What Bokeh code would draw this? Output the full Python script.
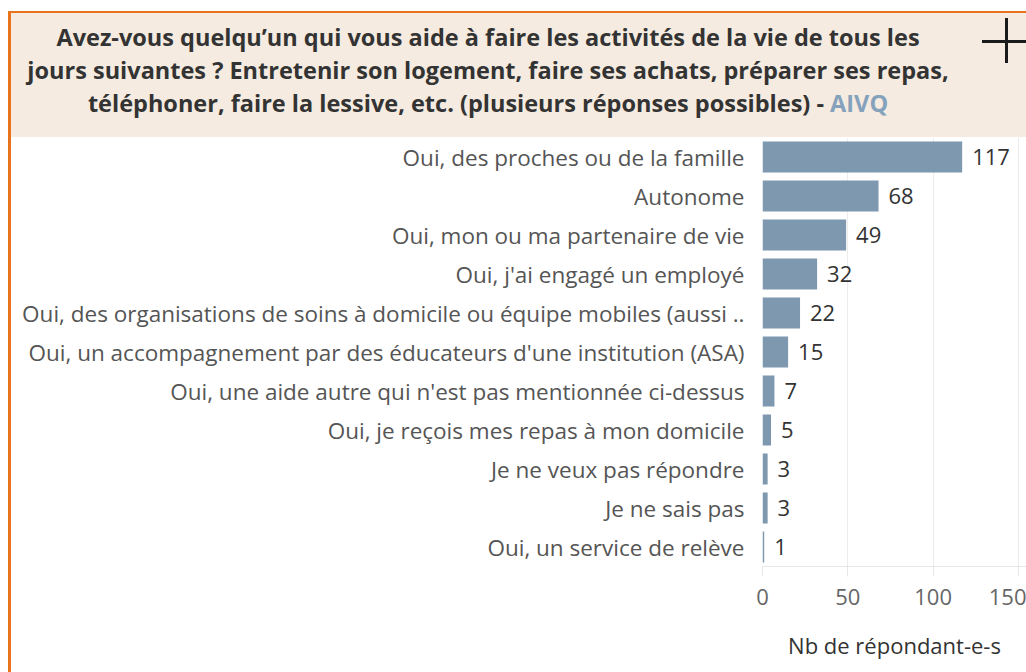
from bokeh.plotting import figure
from bokeh.layouts import column, row
from bokeh.models import Range1d, FactorRange, FixedTicker, ColumnDataSource, Div
from bokeh.core.properties import value
from bokeh.embed import file_html
from bokeh.resources import INLINE

categories = [
    "Oui, des proches ou de la famille",
    "Autonome",
    "Oui, mon ou ma partenaire de vie",
    "Oui, j'ai engagé un employé",
    "Oui, des organisations de soins à domicile ou équipe mobiles (aussi ..",
    "Oui, un accompagnement par des éducateurs d'une institution (ASA)",
    "Oui, une aide autre qui n'est pas mentionnée ci-dessus",
    "Oui, je reçois mes repas à mon domicile",
    "Je ne veux pas répondre",
    "Je ne sais pas",
    "Oui, un service de relève",
]
counts = [117, 68, 49, 32, 22, 15, 7, 5, 3, 3, 1]
x_ticks = [0, 50, 100, 150]

title_lines = [
    "Avez-vous quelqu\u2019un qui vous aide à faire les activités de la vie de tous les",
    "jours suivantes ? Entretenir son logement, faire ses achats, préparer ses repas,",
    "téléphoner, faire la lessive, etc. (plusieurs réponses possibles) - ",
]
title_source = "AIVQ"
axis_title = "Nb de répondant-e-s"

W = 1026
H = 672
HH = 137
BH = H - HH
STRIP = 11
FONT = "Open Sans"
ORANGE = "#e8731a"
BEIGE = "#f5ebe0"
BAR = "#7e98b0"

# ---------- header (HTML) ----------
def line_div(txt, cx, cy):
    return (f'<div style="position:absolute;left:{cx - 520}px;width:1040px;top:{cy - 15}px;'
            f'height:30px;line-height:30px;text-align:center;white-space:nowrap;">{txt}</div>')

header_html = (
    f'<div style="position:relative;width:{W}px;height:{HH}px;background:#ffffff;overflow:hidden;'
    f'font-family:\'{FONT}\';font-weight:bold;font-size:23.5px;color:#333333;">'
    f'<div style="position:absolute;left:8px;top:11px;width:{W - 8}px;height:{HH - 11}px;'
    f'background:{BEIGE};border-top:2.5px solid {ORANGE};border-left:3px solid {ORANGE};box-sizing:border-box;"></div>'
    + line_div(title_lines[0], 488, 37)
    + line_div(title_lines[1], 488, 70)
    + line_div(title_lines[2] + f'<span style="color:#85a2bc;">{title_source}</span>', 488, 103)
    + '<div style="position:absolute;left:982px;top:39.5px;width:44px;height:3px;background:#1a1a1a;"></div>'
    + '<div style="position:absolute;left:1004.5px;top:18px;width:3px;height:45px;background:#1a1a1a;"></div>'
    + '</div>'
)
header = Div(text=header_html, width=W, height=HH, styles={"margin": "0", "padding": "0"})

strip = Div(text=f'<div style="position:relative;width:{STRIP}px;height:{BH}px;background:#ffffff;">'
                 f'<div style="position:absolute;left:8px;top:0;width:3px;height:{BH}px;background:{ORANGE};"></div></div>',
            width=STRIP, height=BH, styles={"margin": "0", "padding": "0"})

# ---------- chart ----------
src = ColumnDataSource(dict(cat=categories, n=counts, lab=[str(v) for v in counts]))

p = figure(width=W - STRIP, height=BH, y_range=FactorRange(*reversed(categories)),
           x_range=Range1d(0, 154.7), output_backend="svg", toolbar_location=None,
           min_border_left=762 - STRIP, min_border_right=0, min_border_top=0,
           min_border_bottom=H - 566)
p.outline_line_color = None
p.background_fill_color = "white"
p.border_fill_color = "white"

p.hbar(y="cat", right="n", height=0.8, source=src, fill_color=BAR, line_color=None)
p.text(x="n", y="cat", text="lab", source=src, x_offset=10,
       text_font=value(FONT), text_font_size="22px", text_color="#333333",
       text_align="left", text_baseline="middle")

p.ygrid.grid_line_color = None
p.xgrid.grid_line_color = "#ececec"
p.xgrid.ticker = FixedTicker(ticks=x_ticks)

xa = p.xaxis[0]
xa.ticker = FixedTicker(ticks=x_ticks)
xa.axis_line_color = "#e6e6e6"
xa.major_tick_line_color = "#e6e6e6"
xa.major_tick_in = 0
xa.major_tick_out = 10
xa.minor_tick_line_color = None
xa.major_label_text_font = FONT
xa.major_label_text_font_size = "22px"
xa.major_label_text_color = "#666666"
xa.major_label_standoff = 12
xa.axis_label = axis_title
xa.axis_label_text_font = FONT
xa.axis_label_text_font_size = "22px"
xa.axis_label_text_font_style = "normal"
xa.axis_label_text_color = "#333333"
xa.axis_label_standoff = 22

ya = p.yaxis[0]
ya.axis_line_color = None
ya.major_tick_line_color = None
ya.minor_tick_line_color = None
ya.major_label_text_font = FONT
ya.major_label_text_font_size = "22.5px"
ya.major_label_text_color = "#555555"
ya.major_label_standoff = 12

lay = column(header, row(strip, p, spacing=0), spacing=0)
open("out.html", "w").write(file_html(lay, INLINE))
